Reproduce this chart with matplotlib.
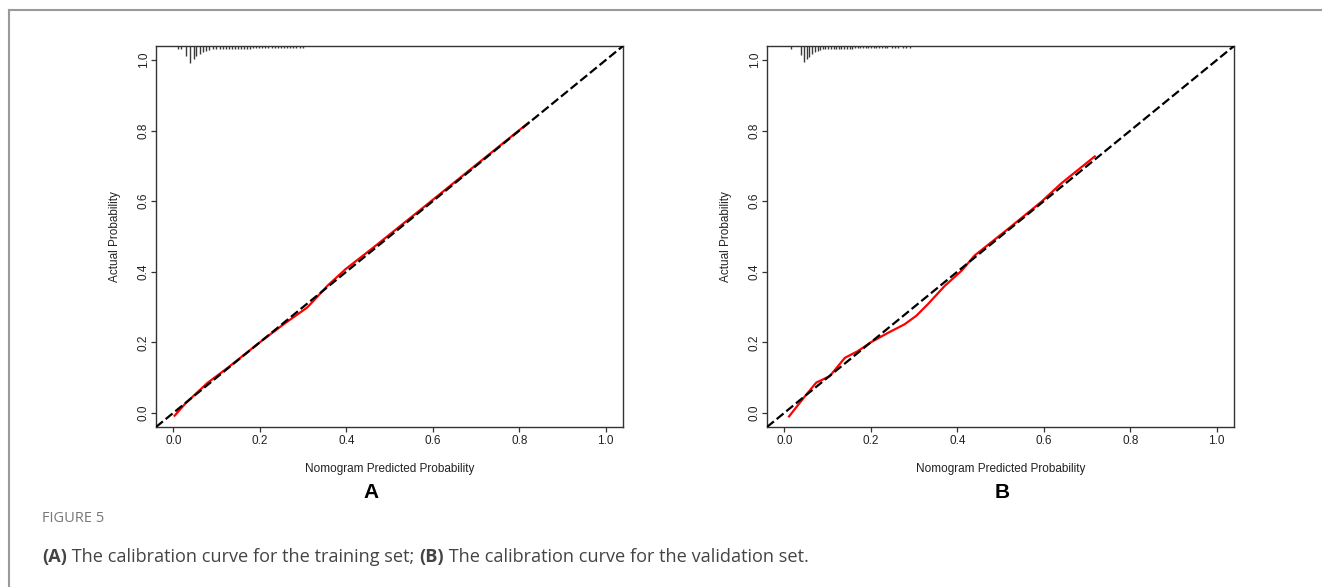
import numpy as np
import matplotlib
matplotlib.use("Agg")
import matplotlib.pyplot as plt
from matplotlib.lines import Line2D

# ---- data ----
tick_vals = [0.0, 0.2, 0.4, 0.6, 0.8, 1.0]
tick_labels = ["0.0", "0.2", "0.4", "0.6", "0.8", "1.0"]

# training set (panel A): predicted vs actual
train_pred = [0.003, 0.029, 0.079, 0.126, 0.200, 0.256, 0.310, 0.357, 0.399,
              0.464, 0.580, 0.695, 0.822]
train_obs = [-0.008, 0.028, 0.085, 0.128, 0.200, 0.252, 0.299, 0.361, 0.408,
             0.470, 0.584, 0.698, 0.823]

# validation set (panel B)
valid_pred = [0.011, 0.047, 0.074, 0.093, 0.105, 0.140, 0.170, 0.200, 0.240,
              0.278, 0.305, 0.332, 0.371, 0.410, 0.440, 0.518, 0.595, 0.641, 0.718]
valid_obs = [-0.010, 0.046, 0.086, 0.097, 0.104, 0.156, 0.175, 0.200, 0.227,
             0.251, 0.275, 0.308, 0.360, 0.403, 0.446, 0.522, 0.599, 0.651, 0.727]

# spike histogram of predictions along the top edge (spike length in px)
train_rug_x = [0.012, 0.018, 0.029, 0.039, 0.047, 0.053, 0.061, 0.068, 0.076, 0.083,
               0.091, 0.099, 0.107, 0.114, 0.121, 0.128, 0.135, 0.142, 0.149, 0.156,
               0.164, 0.171, 0.178, 0.185, 0.192, 0.199, 0.206, 0.213, 0.220, 0.228,
               0.235, 0.242, 0.249, 0.256, 0.263, 0.270, 0.277, 0.284, 0.292, 0.299]
train_rug_h = [2.5, 2.5, 10, 17, 13, 10, 7.5, 6, 4.5, 3.5,
               3.2, 3, 2.8, 2.8, 2.7, 2.7, 2.6, 2.6, 2.6, 2.5,
               2.5, 2.5, 2.5, 2.4, 2.4, 2.4, 2.4, 2.3, 2.3, 2.3,
               2.3, 2.3, 2.2, 2.2, 2.2, 2.2, 2.2, 2.2, 2.2, 2.2]
valid_rug_x = [0.016, 0.039, 0.046, 0.052, 0.058, 0.064, 0.070, 0.077, 0.083, 0.089,
               0.095, 0.101, 0.108, 0.114, 0.120, 0.126, 0.132, 0.139, 0.145, 0.151,
               0.157, 0.163, 0.170, 0.176, 0.182, 0.188, 0.194, 0.201, 0.207, 0.213,
               0.219, 0.225, 0.232, 0.238, 0.250, 0.256, 0.263, 0.275, 0.281, 0.290]
valid_rug_h = [2.5, 9, 16, 13, 11, 8, 6, 4.7, 3.5, 3.2,
               3, 2.8, 2.7, 2.7, 2.6, 2.6, 2.6, 2.5, 2.5, 2.5,
               2.5, 2.4, 2.4, 2.4, 2.4, 2.3, 2.3, 2.3, 2.3, 2.3,
               2.2, 2.2, 2.2, 2.2, 2.2, 2.2, 2.2, 2.2, 2.2, 2.2]

# letter, curve, rug, left edge px, letter x (axes fraction)
panels = [
    ("A", train_pred, train_obs, train_rug_x, train_rug_h, 156, 0.460),
    ("B", valid_pred, valid_obs, valid_rug_x, valid_rug_h, 767, 0.503),
]

W, H = 1322, 587
fig = plt.figure(figsize=(W / 100, H / 100), dpi=100)
fig.patch.set_facecolor("white")
plt.rcParams["font.family"] = ["Liberation Sans", "DejaVu Sans"]

ax_w, ax_h = 467, 381
ax_top = 46
for letter, px, py, rx, rh, left, lx in panels:
    ax = fig.add_axes([left / W, 1 - (ax_top + ax_h) / H, ax_w / W, ax_h / H])
    ax.set_xlim(-0.04, 1.04)
    ax.set_ylim(-0.04, 1.04)
    for sp in ax.spines.values():
        sp.set_color("#333333")
        sp.set_linewidth(1.0)
    ax.set_xticks(tick_vals)
    ax.set_xticklabels(tick_labels)
    ax.set_yticks(tick_vals)
    ax.set_yticklabels(tick_labels, rotation=90, va="center")
    ax.tick_params(length=3.6, width=0.9, color="#333333", labelsize=8.5,
                   labelcolor="#222222")
    ax.tick_params(axis="x", pad=2.5)
    ax.tick_params(axis="y", pad=1)

    ax.plot(px, py, color="#ff0000", lw=1.6, zorder=2)
    ax.axline((0, 0), slope=1, color="black", lw=1.6, dashes=(4, 1.6), zorder=3)

    # spikes hang down from the top of the box
    ax.vlines(rx, [1 - h / ax_h for h in rh], 1.0, transform=ax.get_xaxis_transform(),
              color="#3a3a3a", lw=1.0, zorder=4)

    ax.text(-0.088, 0.5, "Actual Probability", transform=ax.transAxes, rotation=90,
            ha="center", va="center", fontsize=8.5, color="#222222")
    ax.text(0.5, -0.110, "Nomogram Predicted Probability", transform=ax.transAxes,
            ha="center", va="center", fontsize=8.5, color="#222222")
    ax.text(lx, -0.171, letter, transform=ax.transAxes, ha="center", va="center",
            fontsize=15, fontweight="bold", color="black")

# outer frame of the figure panel
fig.add_artist(Line2D([9 / W, 1.0], [1 - 10 / H, 1 - 10 / H], transform=fig.transFigure,
                      color="#9a9a9a", lw=1.5))
fig.add_artist(Line2D([9 / W, 9 / W], [0.0, 1 - 10 / H], transform=fig.transFigure,
                      color="#9a9a9a", lw=1.5))

cap_font = ["Open Sans", "DejaVu Sans"]
fig.text(42 / W, 1 - 518 / H, "FIGURE 5", family=cap_font, fontsize=10.5,
         color="#777777", ha="left", va="center")

# caption with bold panel letters, laid out piece by piece
pieces = [("(A)", "bold"), (" The calibration curve for the training set; ", "normal"),
          ("(B)", "bold"), (" The calibration curve for the validation set.", "normal")]
renderer = fig.canvas.get_renderer()
x = 42
for txt, weight in pieces:
    t = fig.text(x / W, 1 - 557 / H, txt, family=cap_font, fontsize=13.1,
                 fontweight=weight, color="#444444", ha="left", va="center")
    x = t.get_window_extent(renderer).x1

fig.savefig("out.png", dpi=100)
